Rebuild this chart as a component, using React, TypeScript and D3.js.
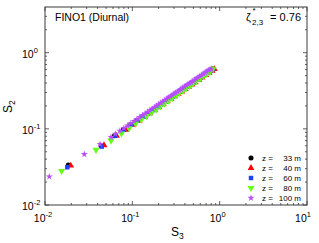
import React from "react";
import * as d3 from "d3";

const W = 319, H = 243;
const M = { left: 45, top: 7, right: 307, bottom: 205 };

const xTicks = [0.01, 0.1, 1, 10];
const xTickExp = ["-2", "-1", "0", "1"];
const yTicks = [0.01, 0.1, 1];
const yTickExp = ["-2", "-1", "0"];

const s3_33 = [0.0185, 0.044, 0.0625, 0.079, 0.096, 0.113, 0.131, 0.15, 0.17, 0.191, 0.214, 0.238, 0.263, 0.289, 0.318, 0.348, 0.383, 0.418, 0.458, 0.498, 0.548, 0.598, 0.658, 0.718, 0.778, 0.83];
const s2_33 = [0.0336, 0.06, 0.081, 0.0972, 0.1131, 0.1283, 0.1439, 0.16, 0.1763, 0.1931, 0.211, 0.23, 0.2485, 0.2668, 0.2883, 0.3092, 0.3332, 0.3566, 0.3831, 0.4089, 0.4406, 0.4718, 0.5083, 0.5442, 0.5794, 0.608];

const s3_40 = [0.0197, 0.0474, 0.066, 0.084, 0.102, 0.12, 0.139, 0.159, 0.18, 0.202, 0.226, 0.252, 0.278, 0.305, 0.336, 0.368, 0.404, 0.441, 0.483, 0.525, 0.578, 0.63, 0.693, 0.756, 0.82, 0.87];
const s2_40 = [0.0329, 0.061, 0.081, 0.0972, 0.1131, 0.1283, 0.1439, 0.16, 0.1763, 0.1931, 0.211, 0.23, 0.2485, 0.2668, 0.2883, 0.3092, 0.3332, 0.3566, 0.3831, 0.4089, 0.4406, 0.4718, 0.5083, 0.5442, 0.5794, 0.6082];

const s3_60 = [0.018, 0.0446, 0.0634, 0.08, 0.097, 0.114, 0.132, 0.151, 0.171, 0.192, 0.215, 0.24, 0.265, 0.29, 0.32, 0.35, 0.385, 0.42, 0.46, 0.5, 0.55, 0.6, 0.66, 0.72, 0.78, 0.83];
const s2_60 = [0.0313, 0.0585, 0.081, 0.0972, 0.1131, 0.1283, 0.1439, 0.16, 0.1763, 0.1931, 0.211, 0.23, 0.2485, 0.2668, 0.2883, 0.3092, 0.3332, 0.3566, 0.3831, 0.4089, 0.4406, 0.4718, 0.5083, 0.5442, 0.5794, 0.6082];

const s3_80 = [0.0155, 0.0384, 0.057, 0.075, 0.092, 0.109, 0.127, 0.146, 0.166, 0.187, 0.21, 0.234, 0.26, 0.286, 0.315, 0.345, 0.38, 0.415, 0.455, 0.495, 0.545, 0.595, 0.655, 0.715, 0.775, 0.84];
const s2_80 = [0.028, 0.053, 0.0702, 0.087, 0.102, 0.117, 0.132, 0.147, 0.163, 0.179, 0.197, 0.215, 0.234, 0.253, 0.273, 0.294, 0.318, 0.341, 0.367, 0.393, 0.424, 0.455, 0.491, 0.527, 0.562, 0.615];

const s3_100 = [0.0112, 0.0282, 0.0427, 0.057, 0.064, 0.072, 0.08, 0.088, 0.096, 0.105, 0.113, 0.122, 0.131, 0.14, 0.15, 0.159, 0.169, 0.179, 0.19, 0.2, 0.212, 0.223, 0.235, 0.247, 0.26, 0.272, 0.285, 0.299, 0.313, 0.328, 0.344, 0.36, 0.377, 0.395, 0.413, 0.432, 0.452, 0.472, 0.493, 0.515, 0.54, 0.565, 0.592, 0.62, 0.65, 0.68, 0.71, 0.74, 0.77, 0.8];
const s2_100 = [0.0236, 0.0464, 0.0629, 0.078, 0.086, 0.094, 0.102, 0.11, 0.118, 0.126, 0.134, 0.142, 0.15, 0.158, 0.167, 0.175, 0.183, 0.192, 0.2, 0.209, 0.219, 0.228, 0.238, 0.247, 0.257, 0.266, 0.276, 0.287, 0.297, 0.308, 0.32, 0.332, 0.344, 0.357, 0.37, 0.383, 0.396, 0.41, 0.424, 0.439, 0.455, 0.472, 0.49, 0.508, 0.527, 0.546, 0.565, 0.584, 0.598, 0.612];

const heights = ["33", "40", "60", "80", "100"];
const colors = ["#000000", "#ff0000", "#1f3fff", "#66ff1a", "#b84cff"];
const symbolTypes = [d3.symbolCircle, d3.symbolTriangle, d3.symbolSquare, d3.symbolTriangle, d3.symbolStar];
const symbolSizes = [20, 20, 20, 22, 15];
const rotations = [0, 0, 0, 180, 0];

const seriesX = [s3_33, s3_40, s3_60, s3_80, s3_100];
const seriesY = [s2_33, s2_40, s2_60, s2_80, s2_100];

const x = d3.scaleLog().domain([0.01, 10]).range([M.left, M.right]);
const y = d3.scaleLog().domain([0.01, 3.98]).range([M.bottom, M.top]);

const FONT = "Liberation Sans, Arial, Helvetica, sans-serif";
const AX = "#3a3a3a";

function minorTicks(domain: [number, number]) {
  const out: number[] = [];
  for (let e = -3; e <= 1; e++) {
    for (let k = 2; k <= 9; k++) {
      const v = k * Math.pow(10, e);
      if (v > domain[0] && v < domain[1]) out.push(v);
    }
  }
  return out;
}

export default function App() {
  const xMinor = minorTicks([0.01, 10]);
  const yMinor = minorTicks([0.01, 3.98]);
  const sym = (i: number) => d3.symbol().type(symbolTypes[i]).size(symbolSizes[i])()!;
  return (
    <svg width={W} height={H} style={{ display: "block", position: "absolute", left: 0, top: 0 }} fontFamily={FONT}>
      <rect x={0} y={0} width={W} height={H} fill="#fff" />
      <g stroke={AX} strokeWidth={0.8}>
        {xTicks.map((t) => (
          <g key={"xt" + t}>
            <line x1={x(t)} x2={x(t)} y1={M.bottom} y2={M.bottom - 4} />
            <line x1={x(t)} x2={x(t)} y1={M.top} y2={M.top + 4} />
          </g>
        ))}
        {xMinor.map((t) => (
          <g key={"xm" + t}>
            <line x1={x(t)} x2={x(t)} y1={M.bottom} y2={M.bottom - 2} />
            <line x1={x(t)} x2={x(t)} y1={M.top} y2={M.top + 2} />
          </g>
        ))}
        {yTicks.map((t) => (
          <g key={"yt" + t}>
            <line x1={M.left} x2={M.left + 4} y1={y(t)} y2={y(t)} />
            <line x1={M.right} x2={M.right - 4} y1={y(t)} y2={y(t)} />
          </g>
        ))}
        {yMinor.map((t) => (
          <g key={"ym" + t}>
            <line x1={M.left} x2={M.left + 2} y1={y(t)} y2={y(t)} />
            <line x1={M.right} x2={M.right - 2} y1={y(t)} y2={y(t)} />
          </g>
        ))}
      </g>
      <rect x={M.left} y={M.top} width={M.right - M.left} height={M.bottom - M.top} fill="none" stroke={AX} strokeWidth={1} />
      {seriesX.map((xs, i) => (
        <g key={"s" + i} fill={colors[i]}>
          {xs.map((v, j) => (
            <path key={j} d={sym(i)} transform={`translate(${x(v)},${y(seriesY[i][j])}) rotate(${rotations[i]})`} />
          ))}
        </g>
      ))}
      {xTicks.map((t, i) => (
        <text key={"xl" + t} x={x(t) - (i === 3 ? 4 : 2)} y={222} textAnchor="middle" fontSize={10.5} fill="#000">
          10<tspan dy={-5} fontSize={7.5}>{xTickExp[i]}</tspan>
        </text>
      ))}
      {yTicks.map((t, i) => (
        <text key={"yl" + t} x={22} y={y(t) + 5} textAnchor="start" fontSize={10.5} fill="#000">
          10<tspan dy={-5} fontSize={7.5}>{yTickExp[i]}</tspan>
        </text>
      ))}
      <text x={171} y={236} fontSize={12} fill="#000">
        S<tspan dy={3} fontSize={8.5}>3</tspan>
      </text>
      <text transform="translate(12,113) rotate(-90)" fontSize={12} fill="#000">
        S<tspan dy={3} fontSize={8.5}>2</tspan>
      </text>
      <text x={55} y={20.5} fontSize={10.5} fill="#000">FINO1 (Diurnal)</text>
      <text x={246} y={20.5} fontSize={11} fill="#000">ζ</text>
      <text x={252.5} y={13} fontSize={8} fill="#000">*</text>
      <text x={252} y={25} fontSize={8} fill="#000">2,3</text>
      <text x={301} y={20.5} fontSize={11} fill="#000" textAnchor="end">= 0.76</text>
      {heights.map((h, i) => (
        <g key={"lg" + h}>
          <path d={sym(i)} fill={colors[i]} transform={`translate(251,${158 + i * 10}) rotate(${rotations[i]})`} />
          <text x={262} y={161 + i * 10} fontSize={8} fill="#000">z =</text>
          <text x={301} y={161 + i * 10} fontSize={8} fill="#000" textAnchor="end">{h} m</text>
        </g>
      ))}
    </svg>
  );
}
